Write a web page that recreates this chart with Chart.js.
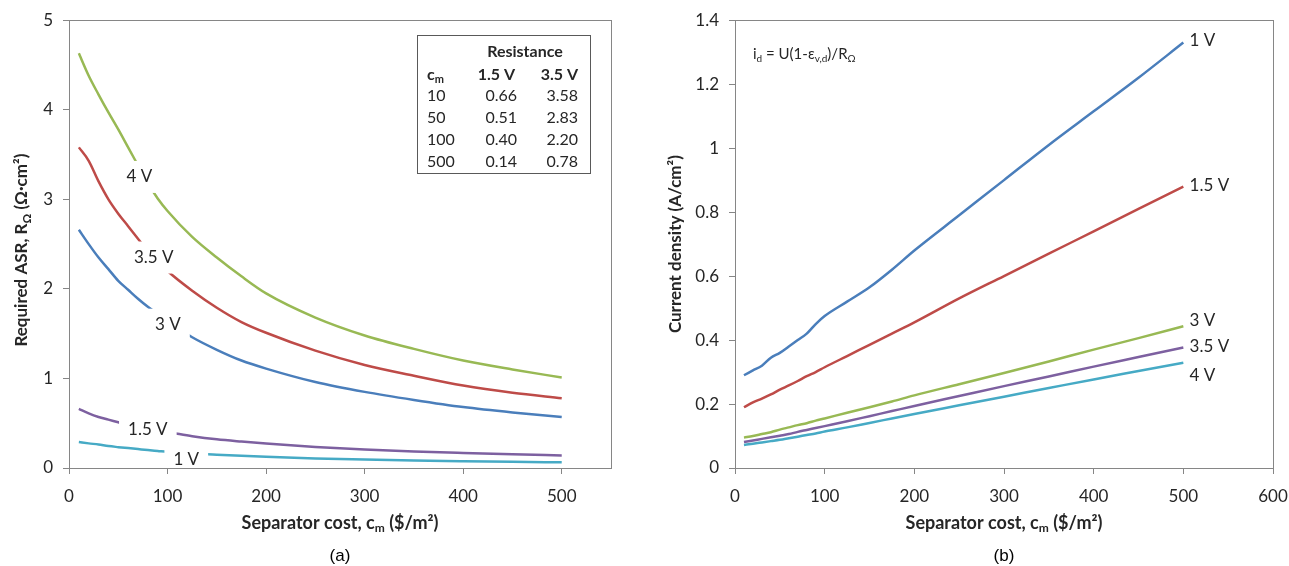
<!DOCTYPE html>
<html>
<head>
<meta charset="utf-8">
<script src="https://cdn.jsdelivr.net/npm/chart.js@4.4.1/dist/chart.umd.min.js"></script>
<style>
    html, body { margin: 0; padding: 0; background: #fff; }
    #wrap { position: relative; width: 1289px; height: 566px; }
    .panel { position: absolute; top: 0; height: 566px; }
    #panelA { left: 0; width: 645px; }
    #panelB { left: 645px; width: 644px; }
</style>
</head>
<body>
<div id="wrap">
    <div class="panel" id="panelA"><canvas id="asrChart"></canvas></div>
    <div class="panel" id="panelB"><canvas id="currentChart"></canvas></div>
</div>
<script>
// Separator cost ($/m2)
const costs = [10, 20, 30, 40, 50, 60, 70, 80, 90, 100, 125, 150, 175, 200, 250, 300, 350, 400, 450, 500];

// (a) Required ASR (ohm.cm2)
const asr4V  = [4.63, 4.38, 4.17, 3.97, 3.78, 3.58, 3.38, 3.18, 3.01, 2.87, 2.58, 2.35, 2.14, 1.95, 1.68, 1.48, 1.33, 1.20, 1.10, 1.01];
const asr35V = [3.58, 3.43, 3.20, 3.00, 2.84, 2.70, 2.56, 2.42, 2.31, 2.20, 1.98, 1.79, 1.63, 1.51, 1.31, 1.15, 1.03, 0.92, 0.84, 0.78];
const asr3V  = [2.66, 2.50, 2.35, 2.22, 2.09, 1.99, 1.89, 1.80, 1.72, 1.64, 1.46, 1.32, 1.20, 1.11, 0.96, 0.85, 0.76, 0.68, 0.62, 0.57];
const asr15V = [0.66, 0.61, 0.57, 0.54, 0.51, 0.48, 0.455, 0.435, 0.415, 0.40, 0.355, 0.32, 0.295, 0.273, 0.235, 0.207, 0.185, 0.168, 0.153, 0.14];
const asr1V  = [0.29, 0.275, 0.262, 0.245, 0.233, 0.222, 0.211, 0.20, 0.19, 0.18, 0.163, 0.149, 0.136, 0.125, 0.107, 0.094, 0.084, 0.076, 0.069, 0.063];

// (b) Current density (A/cm2)
const cd1V  = [0.29, 0.305, 0.32, 0.345, 0.36, 0.38, 0.40, 0.42, 0.45, 0.475, 0.52, 0.565, 0.62, 0.68, 0.79, 0.90, 1.01, 1.115, 1.22, 1.33];
const cd15V = [0.19, 0.205, 0.217, 0.23, 0.245, 0.258, 0.272, 0.287, 0.30, 0.315, 0.35, 0.385, 0.42, 0.455, 0.53, 0.60, 0.67, 0.74, 0.81, 0.88];
const cd3V  = [0.095, 0.10, 0.106, 0.112, 0.12, 0.127, 0.134, 0.14, 0.148, 0.155, 0.173, 0.19, 0.208, 0.227, 0.262, 0.297, 0.333, 0.37, 0.406, 0.443];
const cd35V = [0.081, 0.086, 0.091, 0.096, 0.101, 0.106, 0.113, 0.119, 0.125, 0.131, 0.146, 0.162, 0.178, 0.194, 0.225, 0.256, 0.286, 0.317, 0.347, 0.377];
const cd4V  = [0.072, 0.076, 0.08, 0.084, 0.088, 0.093, 0.098, 0.103, 0.108, 0.114, 0.127, 0.141, 0.155, 0.169, 0.196, 0.223, 0.25, 0.277, 0.303, 0.329];

// inset table of chart (a)
const tableCost  = ['10', '50', '100', '500'];
const tableRes15 = ['0.66', '0.51', '0.40', '0.14'];
const tableRes35 = ['3.58', '2.83', '2.20', '0.78'];

// curve labels (data units)
const asrLabelText = ['4 V', '3.5 V', '3 V', '1.5 V', '1 V'];
const asrLabelX    = [71.5, 86, 100.4, 80, 119];
const asrLabelY    = [3.25, 2.35, 1.60, 0.425, 0.10];
const cdLabelText  = ['1 V', '1.5 V', '3 V', '3.5 V', '4 V'];
const cdLabelX     = [507, 507, 507, 507, 507];
const cdLabelY     = [1.335, 0.884, 0.4625, 0.381, 0.29];

const FONT = 'Lato, "Open Sans", sans-serif';
const TEXT = '#262626';
const AXIS = '#868686';
const BLUE = '#4A7EBB', RED = '#BE4B48', GREEN = '#98B954', PURPLE = '#7D60A0', CYAN = '#46AAC5';

function pts(values) {
    return costs.map((c, i) => ({ x: c, y: values[i] }));
}

function series(label, values, color) {
    return {
        label: label,
        data: pts(values),
        borderColor: color,
        backgroundColor: color,
        borderWidth: 2.5,
        pointRadius: 0,
        cubicInterpolationMode: 'monotone',
        fill: false
    };
}

// text with subscripts: parts = [[text, isSub], ...]
function drawRich(ctx, parts, x, y, size, bold, align) {
    const main = (bold ? 'bold ' : '') + size + 'px ' + FONT;
    const sub = (bold ? 'bold ' : '') + Math.round(size * 0.68) + 'px ' + FONT;
    let total = 0;
    parts.forEach(p => { ctx.font = p[1] ? sub : main; total += ctx.measureText(p[0]).width; });
    let cx = align === 'center' ? x - total / 2 : (align === 'right' ? x - total : x);
    ctx.textAlign = 'left';
    ctx.textBaseline = 'middle';
    parts.forEach(p => {
        ctx.font = p[1] ? sub : main;
        ctx.fillText(p[0], cx, p[1] ? y + size * 0.3 : y);
        cx += ctx.measureText(p[0]).width;
    });
}

// plot area frame, axis titles, panel letter
const framePlugin = {
    id: 'frame',
    beforeDatasetsDraw(chart) {
        const { ctx, chartArea: a } = chart;
        ctx.save();
        ctx.strokeStyle = AXIS;
        ctx.lineWidth = 1;
        ctx.strokeRect(Math.round(a.left) + 0.5, Math.round(a.top) + 0.5, Math.round(a.right - a.left), Math.round(a.bottom - a.top));
        ctx.restore();
    },
    afterDraw(chart, args, opts) {
        const { ctx, chartArea: a } = chart;
        ctx.save();
        ctx.fillStyle = TEXT;
        drawRich(ctx, opts.xTitle, (a.left + a.right) / 2, a.bottom + 55, 18, true, 'center');
        ctx.translate(opts.yTitleX, (a.top + a.bottom) / 2 + opts.yTitleShift);
        ctx.rotate(-Math.PI / 2);
        drawRich(ctx, opts.yTitle, 0, 0, 17, true, 'center');
        ctx.restore();

        ctx.save();
        ctx.fillStyle = '#000';
        ctx.font = '17px "Liberation Sans", Arial, sans-serif';
        ctx.textAlign = 'center';
        ctx.textBaseline = 'middle';
        ctx.fillText(opts.panel, (a.left + a.right) / 2, a.bottom + 88);
        ctx.restore();
    }
};

// curve labels (boxed ones hide the line beneath, like the Excel data labels)
const curveLabelPlugin = {
    id: 'curveLabels',
    afterDatasetsDraw(chart, args, opts) {
        const { ctx, chartArea: a } = chart;
        const xs = chart.scales.x, ys = chart.scales.y;
        ctx.save();
        ctx.font = '17px ' + FONT;
        ctx.textBaseline = 'middle';
        opts.text.forEach((t, i) => {
            const px = xs.getPixelForValue(opts.xs[i]);
            const py = ys.getPixelForValue(opts.ys[i]);
            if (opts.boxed) {
                const w = ctx.measureText(t).width + 18;
                ctx.save();
                ctx.beginPath();
                ctx.rect(a.left + 1, a.top + 1, a.right - a.left - 2, a.bottom - a.top - 2);
                ctx.clip();
                ctx.fillStyle = '#fff';
                ctx.fillRect(px - w / 2, py - 16, w, 32);
                ctx.restore();
                ctx.textAlign = 'center';
            } else {
                ctx.textAlign = 'left';
            }
            ctx.fillStyle = TEXT;
            ctx.fillText(t, px, py);
        });
        ctx.restore();
    }
};

// inset resistance table for chart (a)
const tablePlugin = {
    id: 'resTable',
    afterDatasetsDraw(chart) {
        const { ctx, chartArea: a } = chart;
        const left = Math.round(a.right) - 194, top = Math.round(a.top) + 15;
        ctx.save();
        ctx.fillStyle = '#fff';
        ctx.fillRect(left, top, 173, 138);
        ctx.strokeStyle = '#595959';
        ctx.lineWidth = 1;
        ctx.strokeRect(left + 0.5, top + 0.5, 173, 138);
        ctx.fillStyle = TEXT;
        drawRich(ctx, [['Resistance', false]], left + 108, top + 17, 16, true, 'center');
        drawRich(ctx, [['c', false], ['m', true]], left + 10, top + 40, 16, true, 'left');
        drawRich(ctx, [['1.5 V', false]], left + 98, top + 40, 16, true, 'right');
        drawRich(ctx, [['3.5 V', false]], left + 161, top + 40, 16, true, 'right');
        const rowY = [61, 82.5, 104.5, 126.5];
        tableCost.forEach((c, i) => {
            drawRich(ctx, [[c, false]], left + 10, top + rowY[i], 16, false, 'left');
            drawRich(ctx, [[tableRes15[i], false]], left + 100, top + rowY[i], 16, false, 'right');
            drawRich(ctx, [[tableRes35[i], false]], left + 161, top + rowY[i], 16, false, 'right');
        });
        ctx.restore();
    }
};

// formula note for chart (b)
const notePlugin = {
    id: 'note',
    afterDatasetsDraw(chart) {
        const { ctx, chartArea: a } = chart;
        ctx.save();
        ctx.fillStyle = TEXT;
        drawRich(ctx, [['i', false], ['d', true], [' = U(1-\u03B5', false], ['v,d', true], [')/R', false], ['\u03A9', true]],
            a.left + 18, a.top + 34, 15, false, 'left');
        ctx.restore();
    }
};

function axes(xMax, yMax, yStep, yWidth) {
    const tickFont = { family: FONT, size: 17 };
    return {
        x: {
            type: 'linear',
            min: 0,
            max: xMax,
            grid: { drawOnChartArea: false, drawTicks: true, tickLength: 6, color: AXIS },
            border: { color: AXIS },
            ticks: { stepSize: 100, includeBounds: false, color: TEXT, font: tickFont, padding: 12, maxRotation: 0 },
            afterFit: (axis) => {
                axis.height = 98;
                axis.paddingLeft = 0;
                axis.paddingRight = 0;
            }
        },
        y: {
            min: 0,
            max: yMax,
            grid: { drawOnChartArea: false, drawTicks: true, tickLength: 6, color: AXIS },
            border: { color: AXIS },
            ticks: {
                stepSize: yStep, color: TEXT, font: tickFont, padding: 10,
                callback: (v) => String(Math.round(v * 10) / 10)
            },
            afterFit: (axis) => { axis.width = yWidth; }
        }
    };
}

Chart.defaults.font.family = FONT;

const asrChart = new Chart(document.getElementById('asrChart'), {
    type: 'line',
    data: {
        datasets: [
            series('4 V', asr4V, GREEN),
            series('3.5 V', asr35V, RED),
            series('3 V', asr3V, BLUE),
            series('1.5 V', asr15V, PURPLE),
            series('1 V', asr1V, CYAN)
        ]
    },
    options: {
        responsive: true,
        maintainAspectRatio: false,
        animation: false,
        layout: { padding: { top: 20, right: 34, left: 0, bottom: 0 } },
        scales: axes(550, 5, 1, 69),
        plugins: {
            legend: { display: false },
            tooltip: { enabled: false },
            frame: {
                xTitle: [['Separator cost, c', false], ['m', true], [' ($/m\u00B2)', false]],
                yTitle: [['Required ASR, R', false], ['\u03A9', true], [' (\u03A9\u00B7cm\u00B2)', false]],
                yTitleX: 22,
                yTitleShift: 6,
                panel: '(a)'
            },
            curveLabels: { text: asrLabelText, xs: asrLabelX, ys: asrLabelY, boxed: true }
        }
    },
    plugins: [framePlugin, curveLabelPlugin, tablePlugin]
});

const currentChart = new Chart(document.getElementById('currentChart'), {
    type: 'line',
    data: {
        datasets: [
            series('1 V', cd1V, BLUE),
            series('1.5 V', cd15V, RED),
            series('3 V', cd3V, GREEN),
            series('3.5 V', cd35V, PURPLE),
            series('4 V', cd4V, CYAN)
        ]
    },
    options: {
        responsive: true,
        maintainAspectRatio: false,
        animation: false,
        layout: { padding: { top: 20, right: 16, left: 0, bottom: 0 } },
        scales: axes(600, 1.4, 0.2, 90),
        plugins: {
            legend: { display: false },
            tooltip: { enabled: false },
            frame: {
                xTitle: [['Separator cost, c', false], ['m', true], [' ($/m\u00B2)', false]],
                yTitle: [['Current density (A/cm\u00B2)', false]],
                yTitleX: 31,
                yTitleShift: 0,
                panel: '(b)'
            },
            curveLabels: { text: cdLabelText, xs: cdLabelX, ys: cdLabelY, boxed: false }
        }
    },
    plugins: [framePlugin, curveLabelPlugin, notePlugin]
});
</script>
</body>
</html>
